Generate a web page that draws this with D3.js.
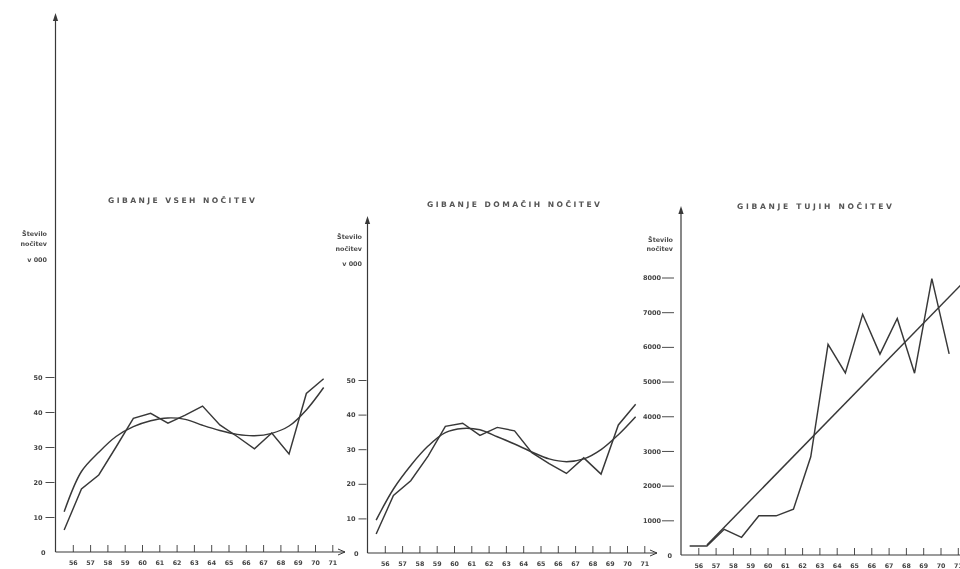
<!DOCTYPE html>
<html>
<head>
<meta charset="utf-8">
<script src="https://cdn.jsdelivr.net/npm/d3@7"></script>
<style>
    body { margin: 0; background: #fff; }
    text { font-family: "DejaVu Sans", "Liberation Sans", sans-serif; }
</style>
</head>
<body>
<svg id="mainSvg" width="960" height="569"></svg>
<script>
// podatki (odčitani s slike)
const years = [56, 57, 58, 59, 60, 61, 62, 63, 64, 65, 66, 67, 68, 69, 70, 71];
const vsehRaw = [6.3, 18, 22, 30, 38.2, 39.6, 36.8, 39.1, 41.7, 36.3, 33, 29.5, 34, 28, 45.3, 49.5];
const vsehTrend = [11.5, 23, 28.5, 33, 35.8, 37.5, 38.3, 37.9, 36.2, 34.7, 33.6, 33.2, 33.9, 36, 40.6, 47];
const domaciRaw = [5.5, 16.6, 20.9, 28, 36.6, 37.5, 34, 36.3, 35.3, 29, 25.8, 23, 27.5, 22.8, 37, 43];
const domaciTrend = [9.5, 18.5, 25.3, 30.9, 34.8, 36, 35.6, 33.6, 31.5, 29.2, 27.2, 26.4, 27.2, 29.9, 34.2, 39.4];
const tujiRaw = [260, 260, 740, 510, 1130, 1130, 1320, 2830, 6070, 5250, 6940, 5790, 6820, 5240, 7970, 5800];
const tujiTrendYears = [57, 72];
const tujiTrend = [290, 7950];
const yTicksDomaci = [0, 10, 20, 30, 40, 50];
const yTicksTuji = [0, 1000, 2000, 3000, 4000, 5000, 6000, 7000, 8000];
const titles = ["GIBANJE VSEH NOČITEV", "GIBANJE DOMAČIH NOČITEV", "GIBANJE TUJIH NOČITEV"];
const axisLabels = [["Število", "nočitev", "v 000"], ["Število", "nočitev", "v 000"], ["Število", "nočitev"]];

let svg = d3.select('#mainSvg');
const ink = "#383838", step = 17.3;

svg.append("defs").append("filter")
    .attr("id", "scan")
    .append("feGaussianBlur")
    .attr("stdDeviation", 0.35);

// postavitev posameznih grafov
const charts = [
    {
        title: titles[0], labels: axisLabels[0], ticks: yTicksDomaci, yMax: 50,
        raw: years.map((d, i) => ({year: d, v: vsehRaw[i]})),
        trend: years.map((d, i) => ({year: d, v: vsehTrend[i]})),
        left: 55.5, base: 552, topTick: 377, axisTop: 13, xEnd: 345,
        titleX: 181.5, titleY: 202.5, titleW: 147,
        labelX: 47, labelY: [236, 245.5, 262],
        dash: [-10, -1], labelEnd: -13, zeroEnd: -10
    },
    {
        title: titles[1], labels: axisLabels[1], ticks: yTicksDomaci, yMax: 50,
        raw: years.map((d, i) => ({year: d, v: domaciRaw[i]})),
        trend: years.map((d, i) => ({year: d, v: domaciTrend[i]})),
        left: 367.5, base: 553, topTick: 380, axisTop: 216, xEnd: 657,
        titleX: 513.5, titleY: 206.5, titleW: 173,
        labelX: 362, labelY: [239, 251, 266],
        dash: [-9, -1], labelEnd: -12, zeroEnd: -9
    },
    {
        title: titles[2], labels: axisLabels[2], ticks: yTicksTuji, yMax: 8000,
        raw: years.map((d, i) => ({year: d, v: tujiRaw[i]})),
        trend: tujiTrendYears.map((d, i) => ({year: d, v: tujiTrend[i]})),
        left: 681, base: 555, topTick: 277.5, axisTop: 206, xEnd: null,
        titleX: 814.5, titleY: 208.5, titleW: 155,
        labelX: 673, labelY: [242, 250.5],
        dash: [-19, -7], labelEnd: -20, zeroEnd: -9
    }
];

/**
 * nariše en graf
 */
const drawChart = function (c) {
    const g = svg.append("g").attr("filter", "url(#scan)");
    const x = d3.scaleLinear().domain([55, 71]).range([c.left, c.left + 16 * step]);
    const y = d3.scaleLinear().domain([0, c.yMax]).range([c.base, c.topTick]);

    // navpična os s puščico
    g.append("line")
        .attr("x1", c.left).attr("x2", c.left)
        .attr("y1", c.base).attr("y2", c.axisTop + 5)
        .attr("stroke", ink).attr("stroke-width", 1.2);
    g.append("path")
        .attr("d", `M${c.left},${c.axisTop} l-2.6,8 h5.2 z`)
        .attr("fill", ink);

    // vodoravna os
    g.append("line")
        .attr("x1", c.left).attr("x2", c.xEnd || 965)
        .attr("y1", c.base).attr("y2", c.base)
        .attr("stroke", ink).attr("stroke-width", 1.2);
    if (c.xEnd) {
        g.append("path")
            .attr("d", `M${c.xEnd - 7},${c.base - 3} L${c.xEnd},${c.base} L${c.xEnd - 7},${c.base + 3}`)
            .attr("fill", "none").attr("stroke", ink).attr("stroke-width", 1);
    }

    const xAxis = d3.axisBottom(x).tickValues(years).tickSize(-7).tickPadding(8.5).tickFormat(d => d);
    g.append("g")
        .attr("transform", `translate(0,${c.base})`)
        .call(xAxis)
        .call(a => a.select(".domain").remove())
        .call(a => a.selectAll(".tick line").attr("stroke", ink).attr("stroke-width", 0.9))
        .call(a => a.selectAll("text")
            .attr("font-family", "DejaVu Sans").attr("font-size", 6.3)
            .attr("font-weight", "bold").attr("fill", "#444"));

    const yAxis = d3.axisLeft(y).tickValues(c.ticks).tickSize(0).tickPadding(0).tickFormat(d3.format("d"));
    g.append("g")
        .attr("transform", `translate(${c.left},0)`)
        .call(yAxis)
        .call(a => a.select(".domain").remove())
        .call(a => a.selectAll(".tick line")
            .attr("x1", c.dash[0]).attr("x2", c.dash[1])
            .attr("stroke", ink).attr("stroke-width", 0.9)
            .attr("opacity", d => d === 0 ? 0 : 1))
        .call(a => a.selectAll("text")
            .attr("x", d => d === 0 ? c.zeroEnd : c.labelEnd)
            .attr("font-family", "DejaVu Sans").attr("font-size", 6.5)
            .attr("font-weight", "bold").attr("fill", "#444"));

    // naslov in oznaka osi
    g.append("text")
        .text(c.title)
        .attr("x", c.titleX).attr("y", c.titleY)
        .attr("text-anchor", "middle")
        .attr("textLength", c.titleW).attr("lengthAdjust", "spacing")
        .attr("font-size", 7.6).attr("font-weight", "bold").attr("fill", "#555");
    g.selectAll(".lab").data(c.labels).join("text")
        .attr("class", "lab")
        .text(d => d)
        .attr("x", c.labelX)
        .attr("y", (d, i) => c.labelY[i])
        .attr("text-anchor", "end")
        .attr("font-size", 6.4).attr("font-weight", "bold").attr("fill", "#4a4a4a");

    // dejanske vrednosti in trend (točke sredi med oznakami let)
    const line = d3.line().x(d => x(d.year - 0.5)).y(d => y(d.v));
    g.append("path")
        .datum(c.raw)
        .attr("d", line)
        .attr("fill", "none").attr("stroke", ink)
        .attr("stroke-width", 1.45).attr("stroke-linejoin", "miter");
    g.append("path")
        .datum(c.trend)
        .attr("d", line.curve(d3.curveCatmullRom.alpha(0.5)))
        .attr("fill", "none").attr("stroke", ink)
        .attr("stroke-width", 1.45);
};

charts.forEach(drawChart);
</script>
</body>
</html>
